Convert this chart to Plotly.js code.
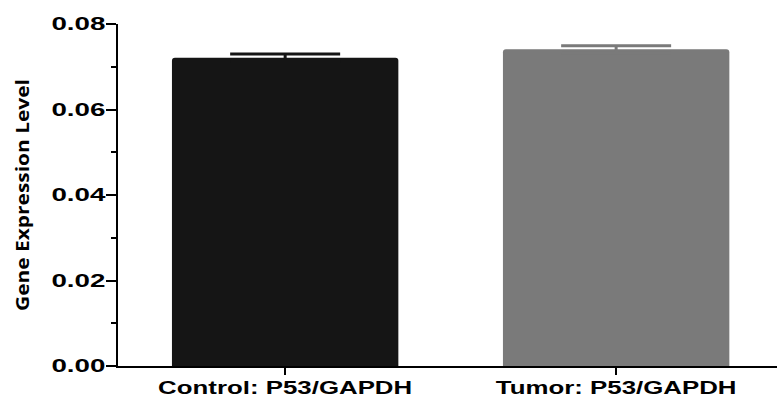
<!DOCTYPE html>
<html>
<head>
<meta charset="utf-8">
<script src="https://cdn.plot.ly/plotly-3.0.1.min.js"></script>
<style>
html,body{margin:0;padding:0;background:#fff;}
#chart{width:777px;height:397px;}
</style>
</head>
<body>
<div id="chart"></div>
<script>
var categories = ["Control: P53/GAPDH", "Tumor: P53/GAPDH"];
var values = [0.0721, 0.0741];
var errors = [0.0009, 0.0008];
var barColors = ["#151515", "#7a7a7a"];
var yTickVals = [0, 0.02, 0.04, 0.06, 0.08];
var yTickText = ["0.00", "0.02", "0.04", "0.06", "0.08"];

var traces = categories.map(function (c, i) {
  return {
    type: "bar",
    x: [c],
    y: [values[i]],
    width: 0.684,
    marker: { color: barColors[i], cornerradius: 3, line: { width: 0 } },
    error_y: { type: "data", array: [errors[i]], visible: true, color: barColors[i], thickness: 3, width: 55 },
    showlegend: false,
    hoverinfo: "skip"
  };
});

var layout = {
  width: 777,
  height: 397,
  margin: { l: 118, r: 0, t: 24, b: 31 },
  paper_bgcolor: "#fff",
  plot_bgcolor: "#fff",
  barmode: "overlay",
  xaxis: {
    type: "category",
    categoryorder: "array",
    categoryarray: categories,
    range: [-0.505, 1.486],
    showline: true,
    linecolor: "#000",
    linewidth: 2,
    ticks: "outside",
    ticklen: 7,
    tickwidth: 2,
    tickcolor: "#000",
    ticklabelstandoff: -4,
    showgrid: false,
    zeroline: false,
    tickfont: { family: "Liberation Sans, Arial, sans-serif", size: 19, color: "#000", weight: "bold" }
  },
  yaxis: {
    range: [0, 0.08],
    tickvals: yTickVals,
    ticktext: yTickText,
    showline: true,
    linecolor: "#000",
    linewidth: 2,
    ticks: "outside",
    ticklen: 10,
    tickwidth: 2,
    tickcolor: "#000",
    ticklabelstandoff: -3,
    showgrid: false,
    zeroline: false,
    minor: { dtick: 0.01, ticks: "outside", ticklen: 5, tickwidth: 2, tickcolor: "#000", showgrid: false },
    tickfont: { family: "Liberation Sans, Arial, sans-serif", size: 18, color: "#000", weight: "bold" },
    title: { text: "Gene Expression Level", standoff: 36, font: { family: "Open Sans, sans-serif", size: 18, color: "#000", weight: "bold" } }
  }
};

function stretch(sel, target) {
  document.querySelectorAll(sel).forEach(function (t) {
    t.setAttribute("textLength", target);
    t.setAttribute("lengthAdjust", "spacingAndGlyphs");
  });
}

Plotly.newPlot("chart", traces, layout, { displayModeBar: false, staticPlot: true }).then(function () {
  document.querySelectorAll(".xtick text").forEach(function (t) {
    var w = t.getComputedTextLength();
    t.setAttribute("textLength", (w * 1.36).toFixed(1));
    t.setAttribute("lengthAdjust", "spacingAndGlyphs");
  });
  stretch(".ytick text", 54);
  stretch(".ytitle", 232);
});
</script>
</body>
</html>
